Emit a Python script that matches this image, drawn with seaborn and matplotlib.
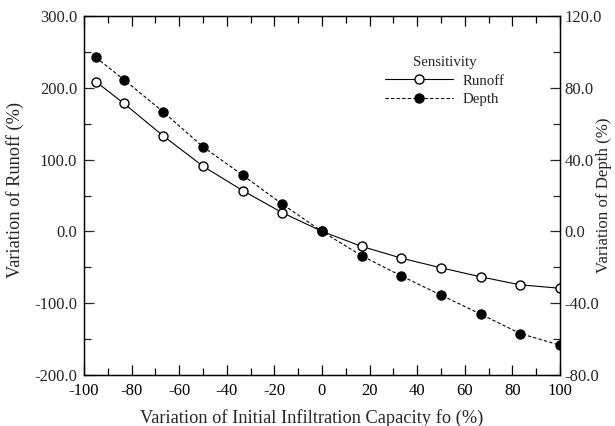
import matplotlib
matplotlib.use("Agg")
import matplotlib.pyplot as plt
import seaborn as sns
import pandas as pd
from matplotlib.ticker import MultipleLocator, FormatStrFormatter

sns.set_theme(style="ticks")
plt.rcParams['font.family'] = ['Liberation Serif', 'DejaVu Serif']
plt.rcParams['axes.unicode_minus'] = False

variation_fo = [-95, -83.3, -66.7, -50, -33.3, -16.7, 0, 16.7, 33.3, 50, 66.7, 83.3, 100]
runoff_var = [208.5, 178.4, 133.0, 90.8, 56.8, 26.1, 0.0, -20.9, -37.2, -50.7, -63.3, -74.4, -79.2]
depth_var = [96.9, 84.6, 66.6, 47.1, 31.3, 15.2, 0.0, -13.6, -24.8, -35.5, -46.1, -56.9, -63.4]

df_r = pd.DataFrame({"x": variation_fo, "y": runoff_var})
df_d = pd.DataFrame({"x": variation_fo, "y": depth_var})

fig = plt.figure(figsize=(6.15, 4.26), dpi=100)
ax = fig.add_axes([84/615, 1-375/426, (560-84)/615, (375-16)/426])
ax2 = ax.twinx()

sns.lineplot(data=df_r, x="x", y="y", ax=ax, color="black", lw=0.8,
             marker="o", markersize=6.5, markerfacecolor="white",
             markeredgecolor="black", markeredgewidth=1.0, label="Runoff", legend=False)
sns.lineplot(data=df_d, x="x", y="y", ax=ax2, color="black", lw=0.8, linestyle=(0, (3, 2)),
             marker="o", markersize=6.5, markerfacecolor="black",
             markeredgecolor="black", markeredgewidth=1.0, label="Depth", legend=False)

ax.set_xlim(-100, 100)
ax.set_ylim(-200, 300)
ax2.set_ylim(-80, 120)

ax.xaxis.set_major_locator(MultipleLocator(20))
ax.xaxis.set_minor_locator(MultipleLocator(10))
ax.yaxis.set_major_locator(MultipleLocator(100))
ax.yaxis.set_minor_locator(MultipleLocator(50))
ax2.yaxis.set_major_locator(MultipleLocator(40))
ax2.yaxis.set_minor_locator(MultipleLocator(20))
ax.yaxis.set_major_formatter(FormatStrFormatter("%.1f"))
ax2.yaxis.set_major_formatter(FormatStrFormatter("%.1f"))

fs = 12
ax.tick_params(axis="x", which="both", direction="in", top=True, bottom=True,
               labelsize=fs, colors="black", pad=6)
ax.tick_params(axis="x", which="major", length=7, width=0.9)
ax.tick_params(axis="x", which="minor", length=5, width=0.9)
ax.tick_params(axis="y", which="both", direction="in", left=True, right=False,
               labelsize=fs, pad=5)
ax.tick_params(axis="y", which="major", length=7, width=0.9)
ax.tick_params(axis="y", which="minor", length=5, width=0.9)
ax2.tick_params(axis="y", which="both", direction="in", right=True, left=False,
                labelsize=fs, pad=3)
ax2.tick_params(axis="y", which="major", length=7, width=0.9)
ax2.tick_params(axis="y", which="minor", length=5, width=0.9)

for a in (ax, ax2):
    for s in a.spines.values():
        s.set_visible(True)
        s.set_color("black")
        s.set_linewidth(0.9)

lfs = 13.2
ax.set_xlabel("Variation of Initial Infiltration Capacity fo (%)", fontsize=lfs)
ax.set_ylabel("Variation of Runoff (%)", fontsize=lfs)
ax2.set_ylabel("Variation of Depth (%)", fontsize=12.2)
ax.xaxis.set_label_coords((311.5-84)/476, (375-409)/359)
ax.yaxis.set_label_coords((24-84)/476, (375-190)/359)
ax2.yaxis.set_label_coords((596.5-84)/476, (375-195)/359)

h1 = ax.get_lines()[0]
h2 = ax2.get_lines()[0]
leg = ax2.legend([h1, h2], ["Runoff", "Depth"], title="Sensitivity", frameon=False,
                 loc="upper left", bbox_to_anchor=((385-84)/476, 1-(56-16)/359),
                 fontsize=10.7, title_fontsize=10.7, handlelength=4.6, handletextpad=0.6,
                 labelspacing=0.35, borderpad=0, borderaxespad=0)

fig.savefig("out.png", dpi=100)
